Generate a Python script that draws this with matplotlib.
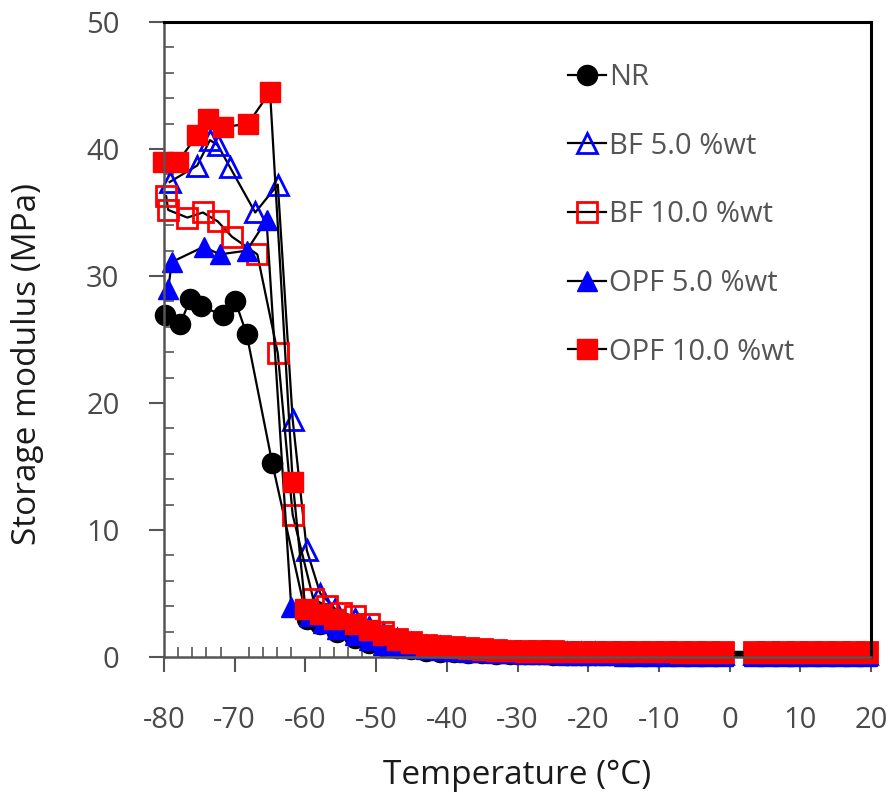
import matplotlib
matplotlib.use('Agg')
import matplotlib.pyplot as plt
from matplotlib.ticker import MultipleLocator

plt.rcParams['font.family'] = ['Open Sans', 'DejaVu Sans']
plt.rcParams['axes.unicode_minus'] = False

# -------------------
# data (temperature in C, storage modulus in MPa)
# -------------------
# shared temperatures of the flat tail (rubbery region)
tail_t = [-53, -51, -49, -47, -45, -43, -41, -39, -37, -35, -33, -31,
          -29, -27, -25, -23, -21, -19, -17, -15, -13, -11, -9, -7, -5, -3, -1,
          3.5, 5.5, 7.5, 9.5, 11.5, 13.5, 15.5, 17.5, 19.5]

nr_t = [-79.9, -77.7, -76.3, -74.7, -71.6, -69.9, -68.3, -64.7, -59.8, -57.9, -55.5]
nr_e = [26.9, 26.2, 28.2, 27.6, 26.9, 28.0, 25.4, 15.3, 3.0, 2.6, 2.0]
nr_tail = [1.5, 1.1, 0.85, 0.7, 0.6, 0.5, 0.42, 0.36, 0.32, 0.28, 0.25, 0.23,
           0.21, 0.2, 0.19, 0.18, 0.18, 0.17, 0.17, 0.16, 0.16, 0.16, 0.15, 0.15, 0.15, 0.15, 0.15,
           0.15, 0.15, 0.15, 0.15, 0.15, 0.15, 0.15, 0.15, 0.15]

bf5_t = [-79.2, -75.3, -73.5, -72.4, -70.7, -67.1, -63.9, -61.8, -59.8, -57.9, -55.8]
bf5_e = [37.4, 38.7, 40.7, 40.3, 38.6, 35.0, 37.2, 18.7, 8.4, 5.0, 3.8]
bf5_tail = [3.0, 2.4, 1.9, 1.4, 1.1, 0.9, 0.75, 0.62, 0.52, 0.45, 0.4, 0.36,
            0.34, 0.32, 0.31, 0.3, 0.29, 0.28, 0.27, 0.27, 0.26, 0.26, 0.25, 0.25, 0.25, 0.25, 0.25,
            0.24, 0.24, 0.24, 0.24, 0.24, 0.24, 0.24, 0.24, 0.24]

bf10_t = [-79.7, -79.4, -76.7, -74.5, -72.4, -70.4, -66.8, -63.9, -61.8, -58.9, -57.0, -55.0]
bf10_e = [36.3, 35.2, 34.6, 35.0, 34.3, 33.1, 31.7, 23.9, 11.2, 4.6, 4.0, 3.5]
bf10_tail = [3.2, 2.6, 2.0, 1.45, 1.15, 0.98, 0.85, 0.75, 0.68, 0.6, 0.53, 0.49,
             0.46, 0.45, 0.44, 0.43, 0.43, 0.42, 0.42, 0.42, 0.42, 0.41, 0.41, 0.41, 0.41, 0.41, 0.41,
             0.4, 0.4, 0.4, 0.4, 0.4, 0.4, 0.4, 0.4, 0.4]

opf5_t = [-79.4, -78.9, -74.4, -72.1, -68.3, -65.5, -62.0, -59.5, -57.5, -55.5]
opf5_e = [29.0, 31.1, 32.3, 31.7, 32.0, 34.4, 3.9, 3.2, 2.7, 2.2]
opf5_tail = [1.7, 1.3, 0.95, 0.8, 0.68, 0.6, 0.53, 0.47, 0.42, 0.38, 0.34, 0.3,
             0.27, 0.24, 0.21, 0.18, 0.16, 0.14, 0.12, 0.1, 0.09, 0.08, 0.07, 0.06, 0.06, 0.05, 0.05,
             0.05, 0.05, 0.05, 0.05, 0.05, 0.05, 0.05, 0.05, 0.05]

opf10_t = [-80.1, -78.0, -75.3, -73.8, -71.7, -68.1, -65.0, -61.8, -60.0, -58.0, -56.0]
opf10_e = [39.0, 39.0, 41.1, 42.4, 41.7, 42.0, 44.5, 13.8, 3.8, 3.4, 3.0]
opf10_tail = [2.6, 2.1, 1.7, 1.35, 1.08, 0.9, 0.78, 0.68, 0.6, 0.53, 0.48, 0.44,
              0.42, 0.41, 0.4, 0.39, 0.38, 0.38, 0.37, 0.37, 0.36, 0.36, 0.36, 0.35, 0.35, 0.35, 0.35,
              0.35, 0.35, 0.35, 0.35, 0.35, 0.35, 0.35, 0.35, 0.35]

labels = ['NR', 'BF 5.0 %wt', 'BF 10.0 %wt', 'OPF 5.0 %wt', 'OPF 10.0 %wt']

fig = plt.figure(figsize=(8.93, 7.98), dpi=100)
ax = fig.add_axes([164/893, 1-657/798, 707/893, 635/798])

styles = [('o', 'black', True), ('^', 'blue', False), ('s', 'red', False),
          ('^', 'blue', True), ('s', 'red', True)]
data = [(nr_t, nr_e, nr_tail), (bf5_t, bf5_e, bf5_tail), (bf10_t, bf10_e, bf10_tail),
        (opf5_t, opf5_e, opf5_tail), (opf10_t, opf10_e, opf10_tail)]

for (t, e, tail), (m, c, filled), lab in zip(data, styles, labels):
    ax.plot(list(t) + tail_t, list(e) + tail, color='black', lw=1.6,
            marker=m, ms=14.5, mec=c, mfc=c if filled else 'none',
            mew=2 if not filled else 1, label=lab, clip_on=False)

ax.set_xlim(-80, 20)
ax.set_ylim(0, 50)
ax.xaxis.set_major_locator(MultipleLocator(10))
ax.xaxis.set_minor_locator(MultipleLocator(2))
ax.yaxis.set_major_locator(MultipleLocator(10))
ax.yaxis.set_minor_locator(MultipleLocator(2))
ax.tick_params(which='major', direction='out', length=11, width=1.5, color='#555555',
               labelsize=21, labelcolor='#4a4a4a', pad=21)
ax.tick_params(axis='x', which='major', pad=24)
ax.tick_params(which='minor', direction='in', length=7, width=1.2, color='#555555')

for s in ['left', 'bottom']:
    ax.spines[s].set_color('#555555')
    ax.spines[s].set_linewidth(1.8)
for s in ['top', 'right']:
    ax.spines[s].set_color('black')
    ax.spines[s].set_linewidth(2.2)

fig.text(28/893, 1-364/798, 'Storage modulus (MPa)', rotation=90,
         ha='center', va='center', fontsize=24, color='#1a1a1a')
fig.text(517/893, 1-776/798, 'Temperature (\u00b0C)',
         ha='center', va='center', fontsize=24, color='#1a1a1a')

ax.legend(loc='upper left', bbox_to_anchor=(568/893, 1-63/798), bbox_transform=fig.transFigure,
          frameon=False, fontsize=21, handlelength=1.3, handletextpad=0.1,
          labelspacing=1.36, borderpad=0, borderaxespad=0, labelcolor='#555555')

fig.savefig('out.png', dpi=100)
